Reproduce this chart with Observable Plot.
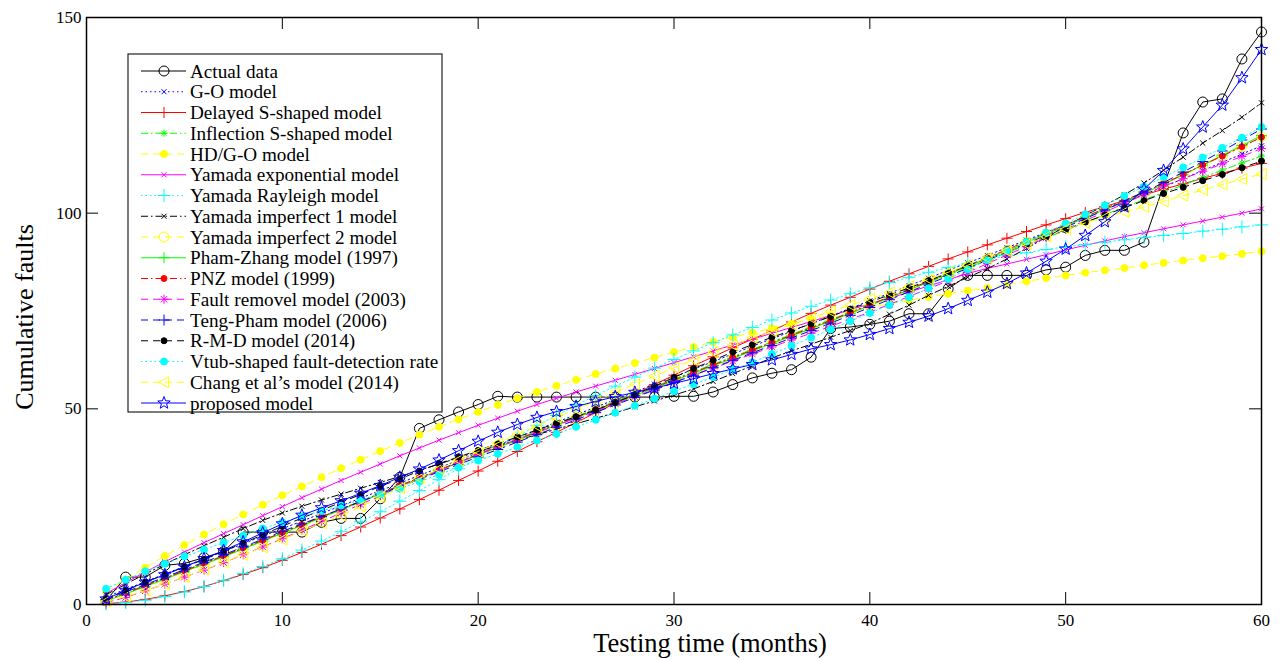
<!DOCTYPE html>
<html><head><meta charset="utf-8">
<script src="https://cdn.jsdelivr.net/npm/d3@7"></script>
<script src="https://cdn.jsdelivr.net/npm/@observablehq/plot@0.6"></script>
<style>body{margin:0;background:#fff;} svg{display:block}</style>
</head><body><div id="chart"></div>
<script>
const months = [1,2,3,4,5,6,7,8,9,10,11,12,13,14,15,16,17,18,19,20,21,22,23,24,25,26,27,28,29,30,31,32,33,34,35,36,37,38,39,40,41,42,43,44,45,46,47,48,49,50,51,52,53,54,55,56,57,58,59,60];
const xTicks = [0,10,20,30,40,50,60];
const yTicks = [0,50,100,150];

const actualData = [1,7,7,10,10.5,12,13.5,18.5,18.5,18.5, 18.5,21,22,22,27,32.5,45,47.2,49.2,51.1, 53.2,53,53,53,53,53,53,53,53,53.2, 53.2,54.3,56.2,57.9,59.1,60,63.2,70.5,70.9,71.6, 72.4,74.3,74.3,80.7,84.1,84.1,84.1,84.1,85.5,86.2, 89.2,90.5,90.5,92.6,107,120.5,128.4,129.2,139.4,146.3];
const goModel = [1.9,3.9,5.8,7.8,9.7,11.6,13.6,15.5,17.5,19.4, 21.3,23.3,25.2,27.2,29.1,31.0,33.0,34.9,36.9,38.8, 40.7,42.7,44.6,46.6,48.5,50.4,52.4,54.3,56.3,58.2, 60.1,62.1,64.0,66.0,67.9,69.8,71.8,73.7,75.7,77.6, 79.5,81.5,83.4,85.4,87.3,89.2,91.2,93.1,95.1,97.0, 98.9,100.9,102.8,104.8,106.7,108.8,110.9,113.0,115.1,117.2];
const delayedS = [0.2,0.6,1.3,2.2,3.3,4.6,6.1,7.7,9.4,11.3, 13.3,15.4,17.6,19.8,22.1,24.4,26.8,29.2,31.7,34.1, 36.6,39.1,41.6,44.0,46.5,49.0,51.4,53.8,56.2,58.6, 61.0,63.3,65.6,67.8,70.0,72.2,74.4,76.5,78.5,80.6, 82.6,84.5,86.4,88.3,90.1,91.9,93.6,95.3,97.0,98.6, 100.2,101.7,103.2,104.7,106.1,107.5,108.9,110.2,111.5,112.7];
const inflectionS = [1.2,3.0,4.9,6.8,8.7,10.6,12.5,14.5,16.4,18.4, 20.4,22.4,24.4,26.4,28.4,30.4,32.4,34.4,36.4,38.4, 40.4,42.3,44.3,46.2,48.1,50.0,51.9,53.8,55.7,57.6, 59.5,61.4,63.3,65.2,67.1,69.0,70.9,72.8,74.7,76.6, 78.5,80.4,82.3,84.2,86.1,88.0,89.9,91.8,93.7,95.6, 97.6,99.6,101.6,103.4,105.3,107.2,109.1,111.0,112.8,114.6];
const hdGO = [3.3,6.4,9.4,12.4,15.2,17.9,20.5,23.0,25.5,27.9, 30.2,32.5,34.8,37.0,39.2,41.3,43.4,45.4,47.3,49.2, 51.0,52.7,54.3,55.9,57.4,58.9,60.3,61.7,63.1,64.5, 65.8,67.1,68.3,69.5,70.6,71.7,72.8,73.9,74.9,75.9, 76.8,77.7,78.6,79.4,80.2,80.9,81.7,82.6,83.4,84.1, 84.8,85.4,86.0,86.7,87.3,87.9,88.5,89.0,89.6,90.3];
const yamadaExp = [2.8,5.6,8.3,10.9,13.4,15.8,18.1,20.4,22.7,25.0, 27.3,29.5,31.7,33.8,35.9,38.0,40.0,42.0,43.9,45.8, 47.6,49.4,51.1,52.7,54.3,55.8,57.3,58.8,60.3,61.8, 63.3,64.8,66.3,67.8,69.3,70.8,72.3,73.8,75.3,76.8, 78.3,79.8,81.4,83.0,84.6,85.9,87.0,88.2,89.4,90.6, 91.8,92.9,94.0,95.0,96.0,97.0,98.0,99.0,100.0,101.1];
const yamadaRayleigh = [0.1,0.5,1.1,2.0,3.2,4.6,6.2,7.9,9.7,11.7, 13.9,16.2,18.6,21.1,23.7,26.4,29.1,31.9,34.7,37.5, 40.3,43.0,45.7,48.3,50.9,53.4,55.8,58.1,60.4,62.6, 64.8,66.9,68.9,70.8,72.7,74.5,76.2,77.8,79.4,80.9, 82.3,83.6,84.9,86.1,87.2,88.2,89.1,89.9,90.7,91.4, 92.0,92.6,93.2,93.8,94.3,94.8,95.4,95.9,96.5,97.0];
const yamadaImp1 = [2.5,5.2,7.8,10.3,12.7,15.0,17.2,19.4,21.5,23.4, 25.1,26.7,28.2,29.7,31.2,32.7,34.3,35.9,37.5,39.1, 40.6,42.0,43.4,44.8,46.2,47.6,49.0,50.5,52.0,53.5, 55.1,57.0,59.0,61.0,63.0,64.8,66.5,68.3,70.0,71.8, 74.2,76.5,79.0,81.3,83.6,85.8,88.3,91.0,93.8,96.6, 99.4,102.0,104.7,107.7,111.0,114.3,117.9,121.1,124.5,128.2];
const yamadaImp2 = [1.0,2.8,4.6,6.4,8.3,10.2,12.1,14.1,16.1,18.1, 20.1,22.1,24.1,26.1,28.1,30.1,32.1,34.1,36.1,38.1, 40.0,41.9,43.8,45.7,47.6,49.5,51.4,53.3,55.2,57.1, 59.0,60.9,62.8,64.7,66.6,68.5,70.4,72.3,74.3,76.3, 78.3,80.3,82.3,84.3,86.3,88.3,90.4,92.5,94.6,96.7, 98.8,100.9,103.0,105.1,107.3,109.7,112.1,114.6,117.0,119.5];
const phamZhang = [0.9,2.7,4.6,6.5,8.4,10.3,12.2,14.2,16.2,18.2, 20.2,22.2,24.2,26.2,28.2,30.2,32.2,34.2,36.2,38.2, 40.1,42.0,43.9,45.8,47.7,49.6,51.5,53.4,55.3,57.2, 59.1,61.0,62.9,64.8,66.7,68.6,70.5,72.4,74.4,76.4, 78.4,80.4,82.4,84.4,86.4,88.4,90.4,92.5,94.6,96.7, 98.8,100.9,103.0,105.1,107.4,109.8,112.3,114.8,117.3,119.8];
const pnz = [1.1,2.9,4.8,6.7,8.6,10.5,12.4,14.4,16.4,18.4, 20.4,22.4,24.4,26.4,28.4,30.4,32.4,34.4,36.4,38.4, 40.3,42.2,44.1,46.0,47.9,49.8,51.7,53.6,55.5,57.4, 59.3,61.2,63.1,65.0,66.9,68.8,70.7,72.6,74.6,76.6, 78.6,80.6,82.6,84.6,86.6,88.6,90.7,92.8,94.9,97.0, 99.1,101.2,103.3,105.4,107.5,109.9,112.3,114.6,117.0,119.4];
const faultRemoval = [0.5,1.8,3.5,5.2,7.0,8.8,10.7,12.7,14.7,16.8, 19.0,21.2,23.4,25.6,27.8,30.0,32.1,34.2,36.3,38.4, 40.3,42.2,44.0,45.8,47.6,49.4,51.3,53.1,54.9,56.8, 58.6,60.4,62.2,64.0,65.8,67.6,69.3,71.1,72.9,74.7, 76.7,78.7,80.7,82.7,84.9,87.1,89.3,91.5,93.7,95.9, 98.1,100.3,102.5,104.7,106.9,108.8,110.7,112.6,114.5,116.5];
const tengPham = [1.3,3.2,5.1,7.0,8.9,10.8,12.7,14.7,16.7,18.7, 20.6,22.5,24.4,26.3,28.2,30.1,32.0,33.9,35.8,37.7, 39.6,41.5,43.4,45.3,47.2,49.1,51.0,52.9,54.8,56.7, 58.6,60.5,62.4,64.3,66.2,68.1,70.0,71.9,73.9,75.9, 77.9,79.9,81.9,83.9,85.9,88.0,90.1,92.2,94.3,96.4, 98.6,100.8,103.1,105.4,107.8,110.5,113.2,115.9,118.7,121.5];
const rmd = [1.5,3.6,5.7,7.7,9.6,11.5,13.6,15.7,17.8,20.0, 22.1,24.1,26.1,28.1,30.2,32.1,34.1,36.0,37.7,39.4, 41.1,42.8,44.6,46.3,48.0,49.7,51.6,53.6,55.8,58.0, 60.3,62.4,64.5,66.4,68.3,70.0,71.7,73.6,75.5,77.3, 79.1,80.9,82.8,84.7,86.6,88.4,90.3,92.1,94.0,95.8, 97.7,99.5,101.4,103.2,105.0,106.6,108.3,109.9,111.6,113.3];
const vtub = [4.0,6.3,8.5,10.4,12.3,14.0,15.8,17.6,19.4,21.0, 22.5,23.9,25.3,26.7,28.1,29.6,31.4,33.2,35.0,36.8, 38.5,40.2,41.9,43.6,45.4,47.2,49.0,50.8,52.6,54.5, 56.3,58.1,60.0,61.9,64.0,66.1,68.2,70.3,72.4,74.5, 76.5,78.5,80.8,83.2,85.6,88.0,90.4,92.7,95.0,97.4, 99.7,102.0,104.4,106.8,109.2,111.7,114.2,116.7,119.3,122.0];
const chang = [0.8,2.0,3.5,5.2,7.0,8.9,10.8,12.7,14.6,16.6, 18.8,20.8,22.8,25.0,27.4,29.8,32.2,34.6,36.9,39.1, 41.3,43.5,45.6,47.8,49.9,52.0,54.2,56.3,58.4,60.5, 62.5,64.5,66.3,68.1,69.8,71.5,73.2,74.9,76.5,78.1, 79.7,81.3,83.1,84.9,86.7,88.5,90.3,92.1,94.0,95.9, 97.5,98.9,100.3,101.6,103.0,104.5,105.9,107.3,108.7,110.0];
const proposed = [1.4,3.6,5.7,7.6,9.6,11.7,13.8,16.0,18.3,20.6, 22.8,24.7,26.5,28.4,30.4,32.5,34.6,36.9,39.3,41.7, 44.0,46.0,47.8,49.3,50.6,51.9,53.1,54.2,55.3,56.5, 57.7,59.0,60.2,61.3,62.5,63.9,65.3,66.4,67.6,69.0, 70.5,72.1,73.7,75.6,77.7,79.8,82.0,84.7,87.7,90.8, 94.3,97.8,101.6,106.1,110.9,116.4,122.0,127.6,134.6,141.8];

const seriesNames = ["Actual data","G-O model","Delayed S-shaped model","Inflection S-shaped model","HD/G-O model","Yamada exponential model","Yamada Rayleigh model","Yamada imperfect 1 model","Yamada imperfect 2 model","Pham-Zhang model (1997)","PNZ model (1999)","Fault removel model (2003)","Teng-Pham model (2006)","R-M-D model (2014)","Vtub-shaped fault-detection rate","Chang et al\u2019s model (2014)","proposed model"];
const seriesValues = [actualData,goModel,delayedS,inflectionS,hdGO,yamadaExp,yamadaRayleigh,yamadaImp1,yamadaImp2,phamZhang,pnz,faultRemoval,tengPham,rmd,vtub,chang,proposed];

// marker shapes
const S = (fn) => ({draw(c, size){ const R = Math.sqrt(size/Math.PI); fn(c, R); }});
const shapes = {
  circle: S((c,R)=>{c.moveTo(R,0); c.arc(0,0,R,0,2*Math.PI); c.closePath();}),
  plus: S((c,R)=>{c.moveTo(-R,0);c.lineTo(R,0);c.moveTo(0,-R);c.lineTo(0,R);}),
  times: S((c,R)=>{const a=R*0.72;c.moveTo(-a,-a);c.lineTo(a,a);c.moveTo(-a,a);c.lineTo(a,-a);}),
  asterisk: S((c,R)=>{const a=R*0.72;c.moveTo(-R,0);c.lineTo(R,0);c.moveTo(0,-R);c.lineTo(0,R);c.moveTo(-a,-a);c.lineTo(a,a);c.moveTo(-a,a);c.lineTo(a,-a);}),
  triLeft: S((c,R)=>{c.moveTo(-R,0);c.lineTo(R*0.85,-R);c.lineTo(R*0.85,R);c.closePath();}),
  star: S((c,R)=>{for(let i=0;i<10;i++){const a=-Math.PI/2+i*Math.PI/5;const rr=i%2?R*0.42:R;const x=rr*Math.cos(a),y=rr*Math.sin(a); if(i) c.lineTo(x,y); else c.moveTo(x,y);} c.closePath();})
};
const DASH = "7,5", DOT = "1.5,3", DASHDOT = "7,3,1.5,3";
const styles = [
  {color:"#000000", dash:null,    shape:"circle",   r:5,   filled:false},
  {color:"#0000ff", dash:DOT,     shape:"times",    r:3.5, filled:false},
  {color:"#ff0000", dash:null,    shape:"plus",     r:5.5, filled:false},
  {color:"#00ff00", dash:DASHDOT, shape:"asterisk", r:3.5, filled:false},
  {color:"#ffff00", dash:DASH,    shape:"circle",   r:3.5, filled:true},
  {color:"#ff00ff", dash:null,    shape:"times",    r:3.5, filled:false},
  {color:"#00ffff", dash:DOT,     shape:"plus",     r:6.5, filled:false},
  {color:"#000000", dash:DASHDOT, shape:"times",    r:3.5, filled:false},
  {color:"#ffff00", dash:DASH,    shape:"circle",   r:5,   filled:false},
  {color:"#00ff00", dash:null,    shape:"plus",     r:5.5, filled:false},
  {color:"#ff0000", dash:DASHDOT, shape:"circle",   r:3,   filled:true},
  {color:"#ff00ff", dash:DASH,    shape:"asterisk", r:4.5, filled:false},
  {color:"#0000ff", dash:DASH,    shape:"plus",     r:5.5, filled:false},
  {color:"#000000", dash:DASH,    shape:"circle",   r:3,   filled:true},
  {color:"#00ffff", dash:DOT,     shape:"circle",   r:3.5, filled:true},
  {color:"#ffff00", dash:DASH,    shape:"triLeft",  r:5.5, filled:false},
  {color:"#0000ff", dash:null,    shape:"star",     r:6.5, filled:false}
];

const W = 1284, H = 660, mL = 86, mR = 23, mT = 17, mB = 56;
const pw = W - mL - mR, ph = H - mT - mB;
const serif = "'Liberation Serif','Times New Roman',serif";

const marks = [];
seriesValues.forEach((vals, i) => {
  const st = styles[i];
  const rows = months.map((t, j) => ({t, v: vals[j]}));
  marks.push(Plot.line(rows, {x: "t", y: "v", stroke: st.color, strokeWidth: 1, strokeDasharray: st.dash || undefined}));
  marks.push(Plot.dot(rows, {x: "t", y: "v", symbol: shapes[st.shape], r: st.r, stroke: st.color, strokeWidth: 1, fill: st.filled ? st.color : "none"}));
});

const chart = Plot.plot({
  width: W, height: H, marginLeft: mL, marginRight: mR, marginTop: mT, marginBottom: mB,
  style: {fontFamily: serif, fontSize: "16px", color: "black", background: "white", overflow: "visible"},
  x: {domain: [0, 60]},
  y: {domain: [0, 150]},
  marks: [
    ...marks,
    Plot.frame({stroke: "black", strokeWidth: 1.5}),
    Plot.tickX(xTicks, {x: d => d, insetTop: ph - 12, stroke: "black"}),
    Plot.tickX(xTicks, {x: d => d, insetBottom: ph - 12, stroke: "black"}),
    Plot.tickY(yTicks, {y: d => d, insetRight: pw - 12, stroke: "black"}),
    Plot.tickY(yTicks, {y: d => d, insetLeft: pw - 12, stroke: "black"}),
    Plot.axisX(xTicks, {tickSize: 0, tickPadding: 9, fontSize: 17, label: null}),
    Plot.axisY(yTicks, {tickSize: 0, tickPadding: 5, fontSize: 17, label: null})
  ]
});

const svg = d3.select(chart);
// axis titles
svg.append("text").attr("x", 710).attr("y", 643).attr("dy", "0.35em").attr("text-anchor", "middle")
  .attr("font-family", serif).attr("font-size", 26.5).attr("fill", "black").text("Testing time (months)");
svg.append("text").attr("transform", "translate(24,317) rotate(-90)").attr("dy", "0.35em").attr("text-anchor", "middle")
  .attr("font-family", serif).attr("font-size", 26).attr("fill", "black").text("Cumulative faults");

// legend
const lg = svg.append("g").attr("text-anchor", "start");
lg.append("rect").attr("x", 128).attr("y", 54).attr("width", 314).attr("height", 358)
  .attr("fill", "white").attr("stroke", "#222").attr("stroke-width", 1.2);
seriesNames.forEach((name, i) => {
  const st = styles[i];
  const y = 71 + i * 20.75;
  lg.append("line").attr("x1", 141).attr("x2", 186).attr("y1", y).attr("y2", y)
    .attr("stroke", st.color).attr("stroke-width", 1).attr("stroke-dasharray", st.dash || null);
  lg.append("path").attr("transform", `translate(164,${y})`)
    .attr("d", d3.symbol(shapes[st.shape], st.r * st.r * Math.PI)())
    .attr("stroke", st.color).attr("stroke-width", 1).attr("fill", st.filled ? st.color : "none");
  lg.append("text").attr("x", 190).attr("y", y).attr("dy", "0.35em").attr("text-anchor", "start")
    .attr("font-family", serif).attr("font-size", 19.2).attr("fill", "black").text(name);
});

document.getElementById("chart").appendChild(chart);
</script>
</body></html>
